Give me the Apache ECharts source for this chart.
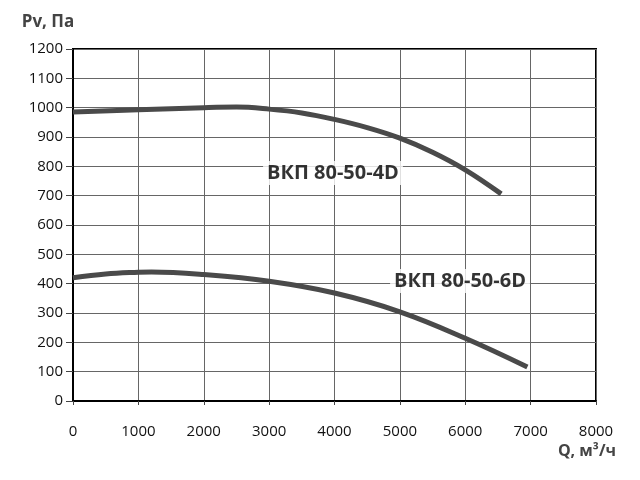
<!DOCTYPE html>
<html>
<head>
<meta charset="utf-8">
<script src="https://cdn.jsdelivr.net/npm/echarts@6/dist/echarts.min.js"></script>
<style>
html,body{margin:0;padding:0;background:#fff;}
#chart{width:640px;height:480px;}
</style>
</head>
<body>
<div id="chart"></div>
<script>
// кривые вентиляторов, Q (м3/ч) и Pv (Па)
var q4D = [0, 1000, 2000, 2500, 3000, 3500, 4000, 4500, 5000, 5500, 6000, 6550];
var pv4D = [985, 993, 1000, 1002, 995, 982, 960, 932, 896, 848, 788, 706];
var q6D = [0, 500, 1000, 1200, 2000, 3000, 4000, 5000, 6000, 6950];
var pv6D = [420, 433, 439, 440, 431, 408, 368, 304, 214, 116];
var labelNames = ['ВКП 80-50-4D', 'ВКП 80-50-6D'];
var labelQ = [3977, 5920];
var labelPv = [777, 409];

function pairs(xs, ys) {
    return xs.map(function (x, i) { return [x, ys[i]]; });
}

var myChart = echarts.init(document.getElementById('chart'));
var fontFam = '"Open Sans", sans-serif';
var curveStyle = {color: '#4a4a4a', width: 5};
var axisLabelFmt = function (v) { return String(v); };

var option = {
    animation: false,
    grid: {left: 73, right: 44, top: 49, bottom: 79, show: true, borderColor: '#000', borderWidth: 2},
    xAxis: {
        type: 'value',
        min: 0, max: 8000, interval: 1000,
        name: 'Q, м³/ч',
        nameLocation: 'end',
        nameGap: 0,
        nameTextStyle: {fontFamily: fontFam, fontWeight: 'bold', fontSize: 16, color: '#444',
            align: 'right', verticalAlign: 'top', padding: [42, -20, 0, 0]},
        axisLine: {show: true, lineStyle: {color: '#000', width: 2}},
        axisTick: {show: true, length: 4, lineStyle: {color: '#444'}},
        axisLabel: {margin: 23, fontFamily: fontFam, fontSize: 15, color: '#111', formatter: axisLabelFmt},
        splitLine: {show: true, lineStyle: {color: '#666', width: 1}}
    },
    yAxis: {
        type: 'value',
        min: 0, max: 1200, interval: 100,
        name: 'Pv, Па',
        nameLocation: 'end',
        nameGap: 18,
        nameTextStyle: {fontFamily: fontFam, fontWeight: 'bold', fontSize: 17, color: '#444',
            align: 'center', padding: [0, 50, 0, 0]},
        axisLine: {show: true, lineStyle: {color: '#000', width: 2}},
        axisTick: {show: true, length: 7, lineStyle: {color: '#444'}},
        axisLabel: {margin: 10, fontFamily: fontFam, fontSize: 15, color: '#111', formatter: axisLabelFmt},
        splitLine: {show: true, lineStyle: {color: '#666', width: 1}}
    },
    series: [{
        type: 'line',
        data: pairs(q4D, pv4D),
        smooth: 0.4,
        showSymbol: false,
        lineStyle: curveStyle
    }, {
        type: 'line',
        data: pairs(q6D, pv6D),
        smooth: 0.4,
        showSymbol: false,
        lineStyle: curveStyle
    }, {
        type: 'scatter',
        data: labelNames.map(function (n, i) { return {name: n, value: [labelQ[i], labelPv[i]]}; }),
        symbol: 'rect',
        symbolSize: 1,
        itemStyle: {color: '#fff'},
        z: 5,
        label: {
            show: true,
            position: 'inside',
            formatter: '{b}',
            fontFamily: fontFam,
            fontWeight: 'bold',
            fontSize: 20,
            color: '#000',
            backgroundColor: '#fff',
            padding: [2, 4]
        }
    }]
};
myChart.setOption(option);
</script>
</body>
</html>
